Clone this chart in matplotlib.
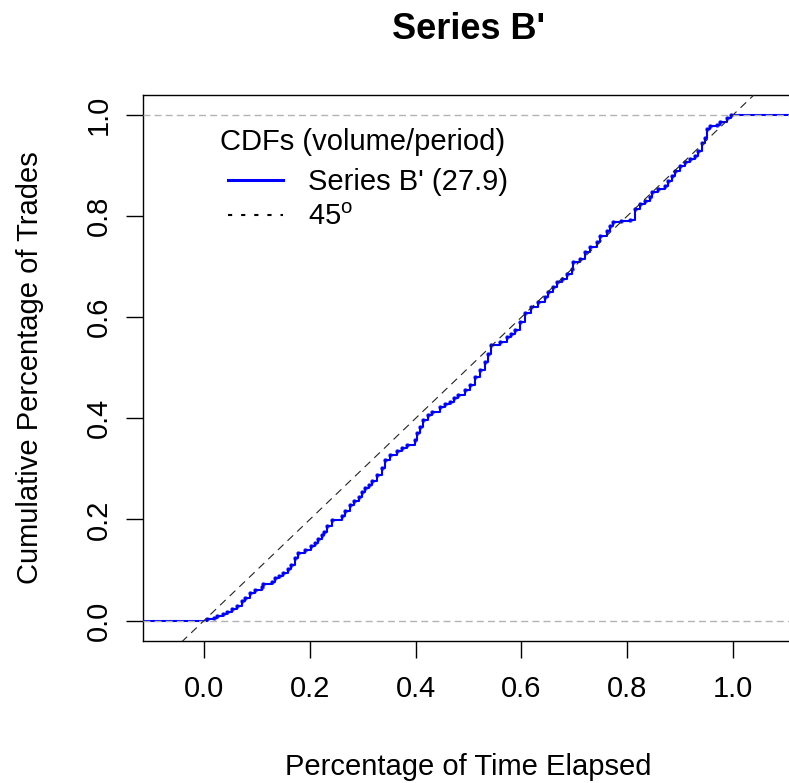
import matplotlib
matplotlib.use("Agg")
import matplotlib.pyplot as plt
from matplotlib.lines import Line2D

# ECDF knots (time fraction -> cumulative share of trades)
knot_x = [0.006, 0.018, 0.024, 0.035, 0.043, 0.052, 0.062, 0.071, 0.078, 0.087,
          0.096, 0.109, 0.112, 0.128, 0.134, 0.142, 0.150, 0.158, 0.165, 0.172,
          0.178, 0.191, 0.203, 0.210, 0.216, 0.222, 0.227, 0.232, 0.241, 0.260,
          0.267, 0.276, 0.284, 0.292, 0.298, 0.304, 0.311, 0.317, 0.326, 0.336,
          0.342, 0.351, 0.364, 0.374, 0.383, 0.399, 0.402, 0.408, 0.414, 0.424,
          0.430, 0.446, 0.455, 0.465, 0.473, 0.481, 0.493, 0.503, 0.512, 0.522,
          0.531, 0.537, 0.543, 0.560, 0.572, 0.580, 0.588, 0.597, 0.607, 0.619,
          0.632, 0.645, 0.651, 0.660, 0.667, 0.676, 0.686, 0.695, 0.698, 0.711,
          0.720, 0.730, 0.742, 0.749, 0.761, 0.767, 0.774, 0.789, 0.805, 0.815,
          0.824, 0.834, 0.843, 0.846, 0.859, 0.871, 0.877, 0.884, 0.890, 0.900,
          0.909, 0.919, 0.928, 0.934, 0.941, 0.947, 0.950, 0.957, 0.969, 0.975,
          0.988, 0.997]
knot_y = [0.002, 0.004, 0.008, 0.012, 0.016, 0.022, 0.028, 0.038, 0.045, 0.055,
          0.060, 0.066, 0.072, 0.076, 0.084, 0.089, 0.094, 0.102, 0.110, 0.124,
          0.134, 0.140, 0.147, 0.153, 0.162, 0.170, 0.176, 0.186, 0.199, 0.206,
          0.216, 0.229, 0.237, 0.245, 0.254, 0.262, 0.268, 0.275, 0.288, 0.301,
          0.318, 0.327, 0.336, 0.342, 0.347, 0.357, 0.370, 0.383, 0.396, 0.406,
          0.413, 0.423, 0.428, 0.433, 0.440, 0.446, 0.456, 0.465, 0.482, 0.495,
          0.511, 0.528, 0.544, 0.551, 0.561, 0.567, 0.574, 0.590, 0.608, 0.620,
          0.630, 0.640, 0.650, 0.659, 0.669, 0.676, 0.686, 0.696, 0.709, 0.715,
          0.728, 0.738, 0.748, 0.760, 0.770, 0.780, 0.788, 0.791, 0.793, 0.814,
          0.824, 0.830, 0.837, 0.847, 0.853, 0.860, 0.870, 0.880, 0.890, 0.900,
          0.906, 0.913, 0.919, 0.929, 0.945, 0.955, 0.972, 0.978, 0.981, 0.987,
          0.994, 1.000]

ticks = [0.0, 0.2, 0.4, 0.6, 0.8, 1.0]
tick_labels = ["0.0", "0.2", "0.4", "0.6", "0.8", "1.0"]
series_label = "Series B' (27.9)"

plt.rcParams["font.family"] = ["Liberation Sans", "DejaVu Sans"]
plt.rcParams["mathtext.fontset"] = "custom"
plt.rcParams["mathtext.rm"] = "Liberation Sans"

FS = 21
XLIM = (-0.1156, 1.1156)
YLIM = (-0.04, 1.04)

fig = plt.figure(figsize=(7.89, 7.83), dpi=100)
ax = fig.add_axes([0.1812, 0.1817, 0.8253, 0.6973])
ax.set_xlim(*XLIM)
ax.set_ylim(*YLIM)

# step function extended to the plot edges
xs = [XLIM[0]] + knot_x + [XLIM[1]]
ys = [0.0] + knot_y + [1.0]
ax.step(xs, ys, where="post", color="#0000FF", lw=1.5, zorder=3)
ax.plot(knot_x, knot_y, "o", color="#0000FF", ms=3.2, mew=0, alpha=0.8, zorder=3)

# 0/1 reference lines drawn over the curve, like R's plot.ecdf
for h in (0.0, 1.0):
    ax.axhline(h, color="#B3B3B3", lw=1.0, ls=(0, (5, 3)), zorder=4)

# 45 degree line
ax.plot(XLIM, XLIM, color="#222222", lw=0.8, ls=(0, (7, 5)), zorder=5)

ax.set_xticks(ticks)
ax.set_xticklabels(tick_labels)
ax.set_yticks(ticks)
ax.set_yticklabels(tick_labels, rotation=90, va="center")
ax.tick_params(axis="both", labelsize=FS, length=12, width=1.0)
ax.tick_params(axis="x", pad=13)
ax.tick_params(axis="y", pad=10)
for s in ax.spines.values():
    s.set_linewidth(1.0)

ax.set_xlabel("Percentage of Time Elapsed", fontsize=FS, labelpad=36)
ax.set_ylabel("Cumulative Percentage of Trades", fontsize=FS, labelpad=29)
ax.set_title("Series B'", fontsize=26, fontweight="bold", pad=40)

# legend: title as its own text, R puts a wider gap below it
ax.text(0.1183, 0.914, "CDFs (volume/period)", transform=ax.transAxes,
        fontsize=FS, ha="left", va="center")
handles = [Line2D([], [], color="#0000FF", lw=2.2),
           Line2D([], [], color="black", lw=1.5, ls=(0, (2, 4.3)))]
ax.legend(handles, [series_label, "45$^\\mathregular{o}$"],
          fontsize=FS, loc="upper left", bbox_to_anchor=(0.1306, 0.866),
          frameon=False, borderpad=0, borderaxespad=0, handlelength=1.9,
          handletextpad=0.85, labelspacing=0.26)

fig.savefig("out.png", dpi=100)
